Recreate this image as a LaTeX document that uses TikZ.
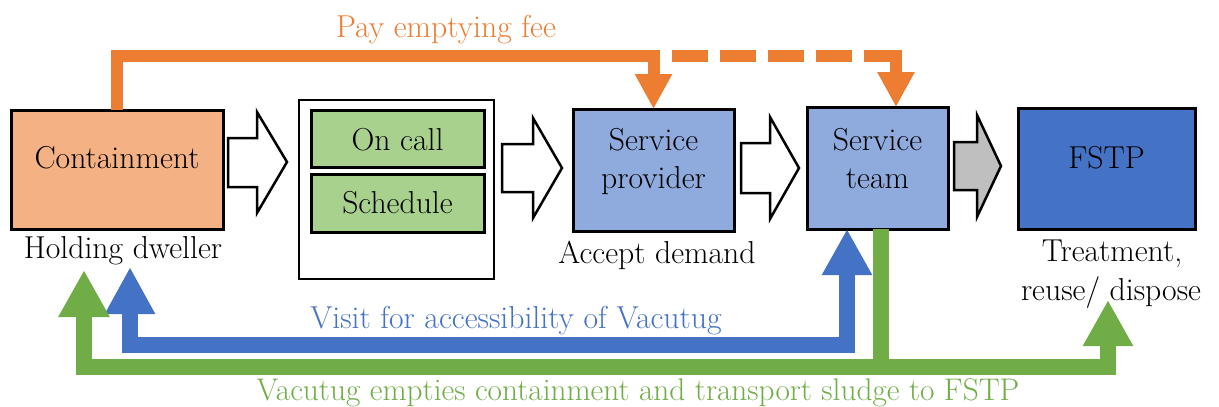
\documentclass[tikz,border=0pt]{standalone}
\usetikzlibrary{arrows.meta,calc}
\definecolor{corange}{HTML}{ED7D31}
\definecolor{cblue}{HTML}{4472C4}
\definecolor{cgreen}{HTML}{70AD47}
\definecolor{cpeach}{HTML}{F4B183}
\definecolor{clblue}{HTML}{8FAADC}
\definecolor{clgreen}{HTML}{A9D18E}
\definecolor{cgrey}{HTML}{BFBFBF}
\tikzset{
  box/.style={draw=black, line width=3pt, rectangle, inner sep=0pt, outer sep=0pt},
  lbl/.style={anchor=base, inner sep=0pt, font=\fontsize{31.7pt}{38pt}\selectfont},
  orangeline/.style={draw=corange, line width=12pt, line join=miter},
  blueline/.style={draw=cblue, line width=16pt, line join=miter},
  greenline/.style={draw=cgreen, line width=16pt, line join=miter},
  blockarrow/.style={draw=black, line width=2.5pt, line join=miter, fill=white},
}
\begin{document}
\begin{tikzpicture}[x=1pt, y=-1pt]
\useasboundingbox (0,0) rectangle (1219,407);

% boxes
\node[box, fill=cpeach, minimum width=212pt, minimum height=119pt] (cont) at (117,169.5) {};
\node[box, line width=2.5pt, fill=white, minimum width=195pt, minimum height=179pt] (big) at (396.5,189.5) {};
\node[box, fill=clgreen, minimum width=173pt, minimum height=57pt] (oncall) at (397.5,138.5) {};
\node[box, fill=clgreen, minimum width=173pt, minimum height=58pt] (sched) at (397.5,203) {};
\node[box, fill=clblue, minimum width=161pt, minimum height=122pt] (prov) at (653.5,170) {};
\node[box, fill=clblue, minimum width=141pt, minimum height=122pt] (team) at (877.5,168) {};
\node[box, fill=cblue, minimum width=177pt, minimum height=121pt] (fstp) at (1106.5,168.5) {};

% texts
\node[lbl] (tcont) at (117,168) {Containment};
\node[lbl] (thold) at (123,258) {Holding dweller};
\node[lbl] (toncall) at (397.5,150) {On call};
\node[lbl] (tsched) at (397.5,213) {Schedule};
\node[lbl] (tprov1) at (653.5,150) {Service};
\node[lbl] (tprov2) at (653.5,188) {provider};
\node[lbl] (taccept) at (657,263) {Accept demand};
\node[lbl] (tteam1) at (877.5,150) {Service};
\node[lbl] (tteam2) at (877.5,188) {team};
\node[lbl] (tfstp) at (1106.5,168) {FSTP};
\node[lbl] (ttreat1) at (1112,261) {Treatment,};
\node[lbl] (ttreat2) at (1111,300) {reuse/ dispose};
\node[lbl, text=corange] (tpay) at (446,37) {Pay emptying fee};
\node[lbl, text=cblue] (tvisit) at (516,328) {Visit for accessibility of Vacutug};
\node[lbl, text=cgreen, font=\fontsize{31.3pt}{38pt}\selectfont] (tvac) at (638,400) {Vacutug empties containment and transport sludge to FSTP};

% orange connectors
\coordinate (o1) at (653.5,56);
\coordinate (o2) at (896,56);
\draw[orangeline, -{Triangle[width=35pt,length=35pt]}] (cont.north) |- (o1) -- (prov.north);
\draw[orangeline, dash pattern=on 36pt off 12pt, dash phase=36pt] ($(o1)+(6,0)$) -- ($(o2)+(-6,0)$);
\draw[orangeline, -{Triangle[width=35pt,length=35pt]}] ($(o2)+(0,-6)$) -- (o2 |- team.north);

% blue connector
\coordinate (bl) at (130,267);
\coordinate (bt) at ($(team.south)+(-30.5,0)$);
\coordinate (bc) at (130,345);
\draw[blueline, {Triangle[width=47pt,length=47pt]}-{Triangle[width=47pt,length=46pt]}] (bl) -- (bc) -| (bt);

% green connectors
\coordinate (gs) at ($(team.south)+(3.5,0)$);
\coordinate (gj) at (881,367);
\coordinate (gl) at (84,270);
\coordinate (gr) at (1108,300);
\draw[greenline, -{Triangle[width=48pt,length=47pt]}] (gs) -- (gj) -| (gl);
\draw[greenline, -{Triangle[width=47pt,length=46pt]}] (gj) -| (gr);

% block arrows
\draw[blockarrow] (228,138) -- (257,138) -- (257,112) -- (287,162) -- (257,213) -- (257,187) -- (228,187) -- cycle;
\draw[blockarrow] (502,144) -- (533,144) -- (533,118) -- (562,168) -- (533,218) -- (533,192) -- (502,192) -- cycle;
\draw[blockarrow] (741,143) -- (770,143) -- (770,117) -- (799,168) -- (770,219) -- (770,193) -- (741,193) -- cycle;
\draw[blockarrow, fill=cgrey] (954,142) -- (977,142) -- (977,115) -- (1001,166) -- (977,217) -- (977,190) -- (954,190) -- cycle;
\end{tikzpicture}
\end{document}
